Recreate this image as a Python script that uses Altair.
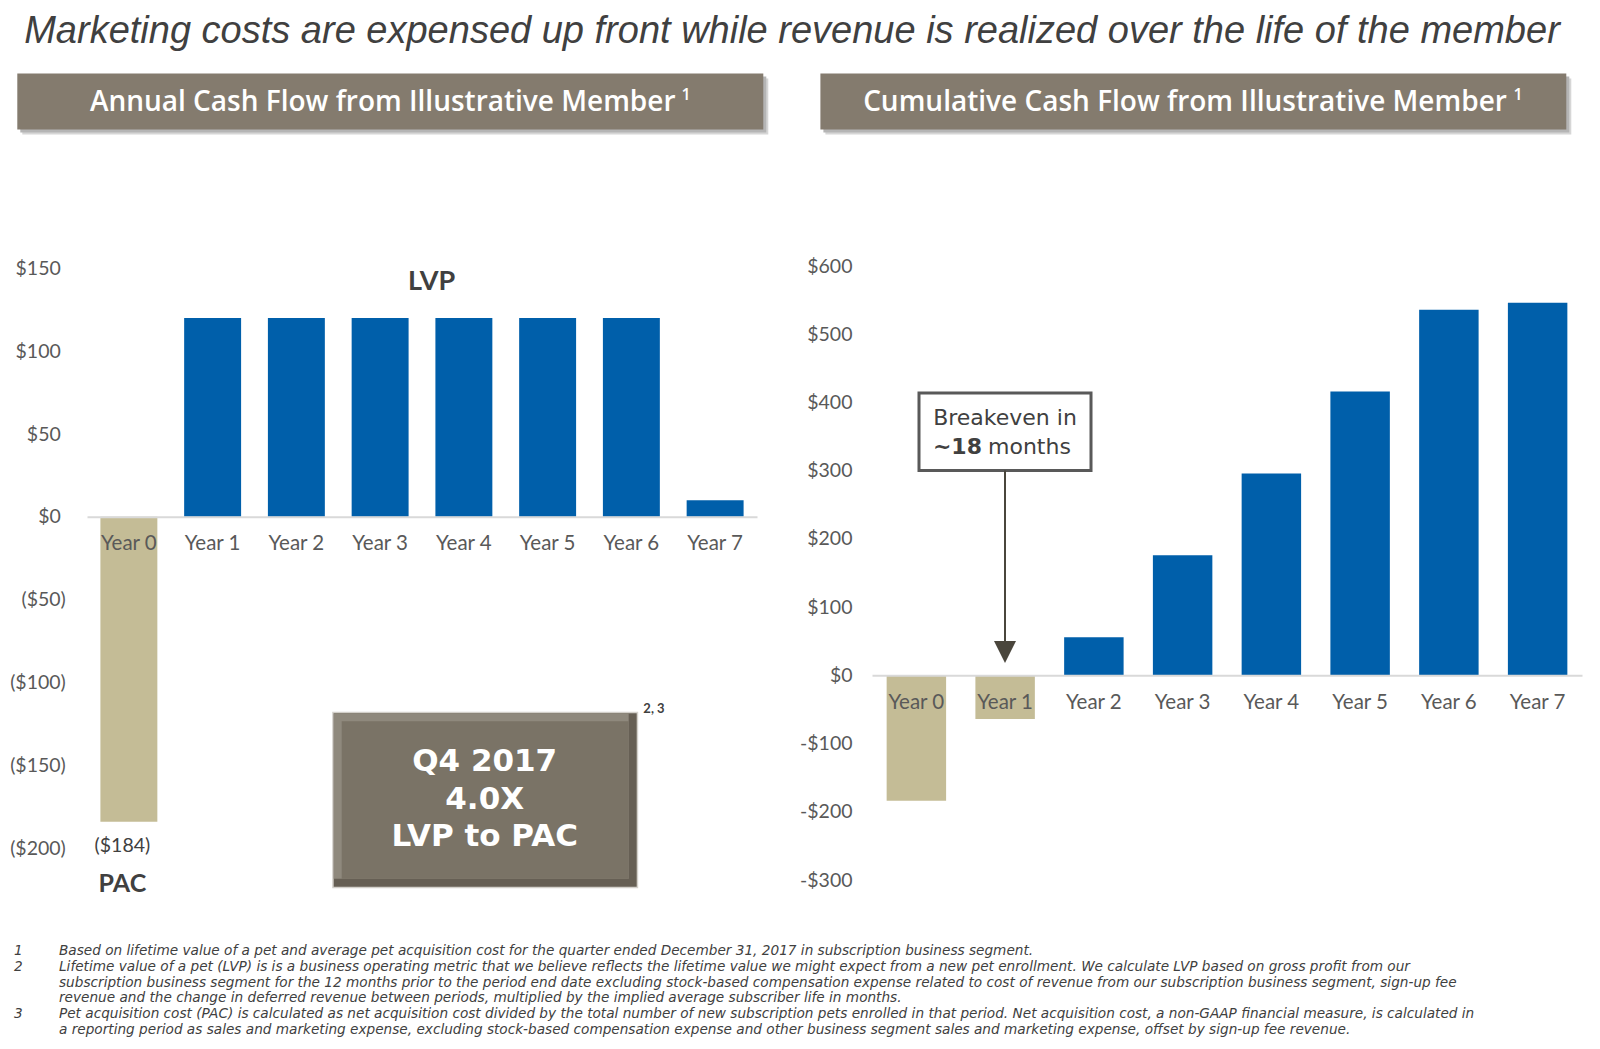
import altair as alt
import pandas as pd

# ---------------- data ----------------
years = ["Year 0", "Year 1", "Year 2", "Year 3", "Year 4", "Year 5", "Year 6", "Year 7"]
annual_cash_flow = [-184, 120, 120, 120, 120, 120, 120, 10]
cumulative_cash_flow = [-184, -64, 56, 176, 296, 416, 536, 546]
annual_ticks = [-200, -150, -100, -50, 0, 50, 100, 150]
cumulative_ticks = [-300, -200, -100, 0, 100, 200, 300, 400, 500, 600]

title_text = "Marketing costs are expensed up front while revenue is realized over the life of the member"
left_header = "Annual Cash Flow from Illustrative Member"
right_header = "Cumulative Cash Flow from Illustrative Member"
ratio_lines = ["Q4 2017", "4.0X", "LVP to PAC"]
footnote_numbers = ["1", "2", "3"]
footnote_blocks = [
    ["Based on lifetime value of a pet and average pet acquisition cost for the quarter ended December 31, 2017 in subscription business segment."],
    ["Lifetime value of a pet (LVP) is is a business operating metric that we believe reflects the lifetime value we might expect from a new pet enrollment. We calculate LVP based on gross profit from our",
     "subscription business segment for the 12 months prior to the period end date excluding stock-based compensation expense related to cost of revenue from our subscription business segment, sign-up fee",
     "revenue and the change in deferred revenue between periods, multiplied by the implied average subscriber life in months."],
    ["Pet acquisition cost (PAC) is calculated as net acquisition cost divided by the total number of new subscription pets enrolled in that period. Net acquisition cost, a non-GAAP financial measure, is calculated in",
     "a reporting period as sales and marketing expense, excluding stock-based compensation expense and other business segment sales and marketing expense, offset by sign-up fee revenue."],
]

# ---------------- styles ----------------
W, H = 1584, 1033
TAN = "#C4BC96"
BLUE = "#005FAA"
DARK = "#404040"
LABEL = "#595959"
HEADER = "#847B6E"
AXIS_FONT = "Lato"
GOTHIC = "Open Sans"
WIDE = "DejaVu Sans"

one = pd.DataFrame({"k": [0]})


def text(t, x, y, size, color=DARK, weight="normal", style="normal", font=GOTHIC,
         align="center", baseline="middle", line_height=None):
    kw = dict(text=t, font=font, fontSize=size, fontWeight=weight, fontStyle=style,
              color=color, align=align, baseline=baseline)
    if line_height:
        kw["lineHeight"] = line_height
    return alt.Chart(one).mark_text(**kw).encode(x=alt.value(x), y=alt.value(y))


def box(x1, y1, x2, y2, fill, stroke=None, sw=0):
    kw = dict(fill=fill)
    if stroke:
        kw.update(stroke=stroke, strokeWidth=sw)
    return alt.Chart(one).mark_rect(**kw).encode(
        x=alt.value(x1), x2=alt.value(x2), y=alt.value(y1), y2=alt.value(y2)
    )


def x_axis(offset):
    return alt.Axis(
        orient="bottom", offset=offset, title=None, labelAngle=0,
        labelFont=AXIS_FONT, labelFontSize=20.5, labelColor=LABEL,
        labelPadding=27, labelBaseline="middle", ticks=False, tickSize=0,
        domainColor="#D9D9D9", domainWidth=2, grid=False, zindex=1,
        labelOverlap=False,
    )


def y_axis(offset, values, expr, pos_pad=0):
    return alt.Axis(
        orient="left", offset=offset, values=values, labelExpr=expr, title=None,
        domain=False, ticks=False, tickSize=0,
        labelPadding={"condition": {"test": "datum.value >= 0", "value": pos_pad}, "value": 0},
        grid=False, labelFont=AXIS_FONT, labelFontSize=19.5, labelColor=LABEL,
        labelOverlap=False,
    )


neg_color = alt.condition(alt.datum.value < 0, alt.value(TAN), alt.value(BLUE))

# ---------------- left panel: annual ----------------
left_df = pd.DataFrame({"year": years, "value": annual_cash_flow})
left_bars = alt.Chart(left_df).mark_bar().encode(
    x=alt.X("year:N", sort=years,
            scale=alt.Scale(domain=years, range=[79, 749], paddingInner=0.32, paddingOuter=0.16),
            axis=x_axis(508.7 - H)),
    y=alt.Y("value:Q",
            scale=alt.Scale(domain=[-200, 150], range=[840.3, 260.3], nice=False),
            axis=y_axis(-57.3, annual_ticks,
                        "datum.value < 0 ? '($' + format(-datum.value, ',') + ')' : '$' + format(datum.value, ',')",
                        pos_pad=5)),
    color=neg_color,
)

# ---------------- right panel: cumulative ----------------
right_df = pd.DataFrame({"year": years, "value": cumulative_cash_flow})
right_bars = alt.Chart(right_df).mark_bar().encode(
    x=alt.X("year:N", sort=years,
            scale=alt.Scale(domain=years, range=[864, 1574], paddingInner=0.33, paddingOuter=0.165),
            axis=x_axis(667.3 - H)),
    y=alt.Y("value:Q",
            scale=alt.Scale(domain=[-300, 600], range=[872, 258], nice=False),
            axis=y_axis(-844, cumulative_ticks,
                        "datum.value < 0 ? '-$' + format(-datum.value, ',') : '$' + format(datum.value, ',')")),
    color=neg_color,
)

# ---------------- decorations ----------------
decor = []
# title
decor.append(text(title_text, 784, 35, 38, color=DARK, style="italic", font="Liberation Sans",
                  baseline="alphabetic"))
# header boxes with shadow
for (x1, x2, label, cx, sx) in [(9.3, 755.3, left_header, 374.7, 678),
                                (812.4, 1558.3, right_header, 1177, 1510)]:
    decor.append(box(x1 + 5, 65.5 + 5, x2 + 5, 121.6 + 5, "#D6D6D6"))
    decor.append(box(x1 + 3, 65.5 + 3, x2 + 3, 121.6 + 3, "#B5B5B5"))
    decor.append(box(x1, 65.5, x2, 121.6, HEADER))
    decor.append(text(label, cx, 94.5, 28, color="white", weight=600))
    decor.append(text("1", sx, 87, 16, color="white", weight=600))

# left annotations
decor.append(text("LVP", 423.6, 273.6, 27, color=DARK, weight="bold", font=AXIS_FONT))
decor.append(text("($184)", 114.4, 838, 19.5, color=DARK, font=AXIS_FONT))
decor.append(text("PAC", 114.4, 875.7, 25, color=DARK, weight="bold", font=AXIS_FONT))

# Q4 bevel box
bx1, by1, bx2, by2, bev = 325.7, 705.3, 628.7, 878.7, 8
decor.append(box(bx1 - 1.5, by1 - 1.5, bx2 + 1.5, by2 + 1.5, "#D3D0CA"))
decor.append(box(bx1, by1, bx2, by2, "#665F54"))
decor.append(box(bx1, by1, bx2 - bev, by2 - bev, "#8F897D"))
decor.append(box(bx1 + bev, by1 + bev, bx2 - bev, by2 - bev, "#7A7366"))
for line, ly in zip(ratio_lines, [754, 791.5, 828.5]):
    decor.append(text(line, 476.7, ly, 31, color="white", weight="bold", font=WIDE))
decor.append(text("2, 3", 646, 701.2, 13, color=DARK, weight="bold", font=AXIS_FONT))

# breakeven callout
decor.append(box(911, 384.9, 1083, 462.4, "white", stroke="#595959", sw=3))
decor.append(text("Breakeven in", 997, 410, 22, color=DARK, font=WIDE))
decor.append(text("~18", 974, 438.5, 22, color=DARK, weight="bold", font=WIDE, align="right"))
decor.append(text("months", 980, 438.5, 22, color=DARK, font=WIDE, align="left"))
decor.append(
    alt.Chart(one).mark_rule(color="#4A463C", strokeWidth=2).encode(
        x=alt.value(997), y=alt.value(462.4), y2=alt.value(640)
    )
)
decor.append(
    alt.Chart(one).mark_point(shape="M-1,-1L1,-1L0,1Z", size=484, filled=True,
                              color="#4A463C", opacity=1).encode(
        x=alt.value(997), y=alt.value(644)
    )
)

# footnotes
foot_top = [943, 959.3, 1006.3]
LH = 15.4
FS = 13.65
for num, block, fy in zip(footnote_numbers, footnote_blocks, foot_top):
    decor.append(text(num, 10.4, fy, FS, color=DARK, style="italic", font=WIDE))
    if len(block) == 1:
        decor.append(text(block[0], 51, fy, FS, color=DARK, style="italic", font=WIDE,
                          align="left"))
    else:
        decor.append(text(block, 51, fy - 7, FS, color=DARK, style="italic", font=WIDE,
                          align="left", baseline="top", line_height=LH))

chart = alt.layer(left_bars, right_bars, *decor).resolve_scale(
    x="independent", y="independent"
).properties(
    width=W, height=H, autosize=alt.AutoSizeParams(type="none"), padding=0,
    background="white",
).configure_view(stroke=None)

chart.save("out.html", embed_options={"renderer": "svg", "actions": False})
